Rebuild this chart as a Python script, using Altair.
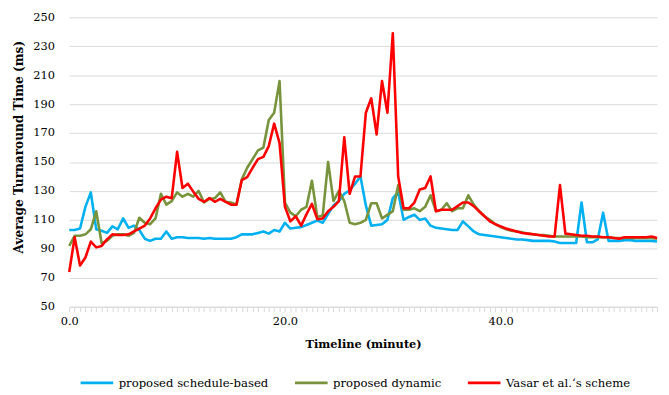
import altair as alt
import pandas as pd

# Timeline (minutes), one sample every 0.5 min
minutes = [i * 0.5 for i in range(110)]

schedule_based = [
    103, 103, 104, 119, 129, 103.5, 102.5, 101, 105.5, 103.5,
    111, 104.5, 106, 103, 97, 95.5, 97, 97, 102, 97,
    98, 98, 97.5, 97.5, 97.5, 97, 97.5, 97, 97, 97,
    97, 98, 100, 100, 100, 101, 102, 100.5, 103, 102,
    108, 104, 104.5, 105, 106.5, 108, 109.5, 108, 114, 120,
    123, 128, 130.5, 135, 140, 120, 106, 106.5, 107, 110,
    125, 129, 110, 112, 113.5, 110, 111, 106, 104.5, 104,
    103.5, 103, 103, 109, 105.5, 102, 100, 99.5, 99, 98.5,
    98, 97.5, 97, 96.5, 96.5, 96, 95.5, 95.5, 95.5, 95.5,
    95, 94, 94, 94, 94, 122, 94.5, 94.5, 96.5, 115,
    95.5, 95.5, 95.5, 96, 96, 95.5, 95.5, 95.5, 95.5, 95,
]

dynamic = [
    92, 99, 99, 100, 103.5, 116, 94, 95.5, 99, 100,
    100, 99, 101, 111.5, 108, 107, 111, 128, 120.5, 123,
    129, 126, 128, 126, 130, 122, 124.5, 125, 129, 122.5,
    122, 120.5, 138, 146, 152, 158, 160, 179, 184, 206,
    122, 115, 112.5, 117, 119, 137, 112, 113, 150, 123,
    130, 123, 108, 107, 108, 110, 121.5, 121.5, 111, 113.5,
    116, 134, 117, 117, 118, 116, 119, 127, 116, 117,
    121.5, 116, 118, 118, 127, 120.5, 116, 112.5, 110, 107,
    105, 103.5, 102.5, 102, 101.5, 100.5, 100, 99.5, 99.5, 99,
    98.5, 98.5, 98.5, 98.5, 98.5, 98.5, 98, 98, 98, 98,
    98, 97.5, 97.5, 97.5, 97.5, 97.5, 97.5, 97.5, 97.5, 97,
]

vasar = [
    74, 98, 78.5, 84, 95, 91, 92, 96.5, 100, 99.5,
    99.5, 100, 102, 104, 106, 111, 118, 124, 126, 125,
    157, 132, 135, 129.5, 124.5, 122.5, 125, 122.5, 124.5, 122.5,
    120.5, 120.5, 137.5, 139.5, 146, 152, 153.5, 161, 176.5, 163,
    119, 109, 112.5, 106, 114, 121, 110.5, 111, 116, 119,
    123, 167, 128, 140, 140, 184, 194, 169, 206, 184,
    239, 140, 118, 118, 122, 131, 132, 140, 116, 117,
    117, 117, 119.5, 122, 122, 119.5, 116, 112.5, 109, 107,
    105.5, 104, 103, 102, 101, 100.5, 100, 99.5, 99, 98.5,
    98.5, 134, 100.5, 100, 99.5, 99, 99, 98.5, 98.5, 98,
    98, 97.5, 97, 98, 98, 98, 98, 98, 98.5, 97.5,
]

series_names = ["proposed schedule-based", "proposed dynamic", "Vasar et al.\u2018s scheme"]
series_colors = ["#00B0F0", "#77933C", "#FF0000"]
y_ticks = [50, 70, 90, 110, 130, 150, 170, 190, 210, 230, 250]

rows = []
for name, vals in zip(series_names, [schedule_based, dynamic, vasar]):
    for m, v in zip(minutes, vals):
        rows.append({"minute": m, "value": v, "series": name})
df = pd.DataFrame(rows)

FONT = "DejaVu Serif"

chart = alt.Chart(df).mark_line(strokeWidth=2.6, strokeJoin="round").encode(
    x=alt.X(
        "minute:Q",
        scale=alt.Scale(domain=[0, 54.5], nice=False, zero=False),
        axis=alt.Axis(
            values=minutes,
            labelExpr="datum.value % 20 == 0 ? format(datum.value, '.1f') : ''",
            grid=False,
            domainColor="#D9D9D9",
            tickColor="#D9D9D9",
            tickSize=5,
            labelFont=FONT,
            labelFontSize=11.5,
            labelColor="#000000",
            labelPadding=4,
            labelFlush=False,
            labelOverlap=False,
            title="Timeline (minute)",
            titleFont=FONT,
            titleFontSize=11.5,
            titleFontWeight="bold",
            titleColor="#000000",
            titlePadding=12,
        ),
    ),
    y=alt.Y(
        "value:Q",
        scale=alt.Scale(domain=[50, 250], nice=False, zero=False),
        axis=alt.Axis(
            values=y_ticks,
            grid=True,
            gridColor="#D9D9D9",
            gridWidth=1,
            domain=False,
            ticks=False,
            labelFont=FONT,
            labelFontSize=11.5,
            labelColor="#000000",
            labelPadding=15,
            labelFlush=False,
            title="Average Turnaround Time (ms)",
            titleFont=FONT,
            titleFontSize=12.3,
            titleFontWeight="bold",
            titleColor="#000000",
            titlePadding=7,
            titleY=131,
        ),
    ),
    color=alt.Color(
        "series:N",
        scale=alt.Scale(domain=series_names, range=series_colors),
        sort=series_names,
        legend=alt.Legend(
            orient="none",
            legendX=10,
            legendY=352,
            direction="horizontal",
            title=None,
            symbolType="stroke",
            symbolStrokeWidth=3,
            symbolSize=1089,
            labelFont=FONT,
            labelFontSize=11.8,
            labelLimit=400,
            labelColor="#000000",
            labelOffset=4,
            columnPadding=20,
        ),
    ),
).properties(
    width=595,
    height=293,
    autosize=alt.AutoSizeParams(type="none"),
    padding={"left": 62, "top": 7, "right": 4, "bottom": 87},
).configure_view(stroke=None)

chart.save("out.html", embed_options={"renderer": "svg", "actions": False})
